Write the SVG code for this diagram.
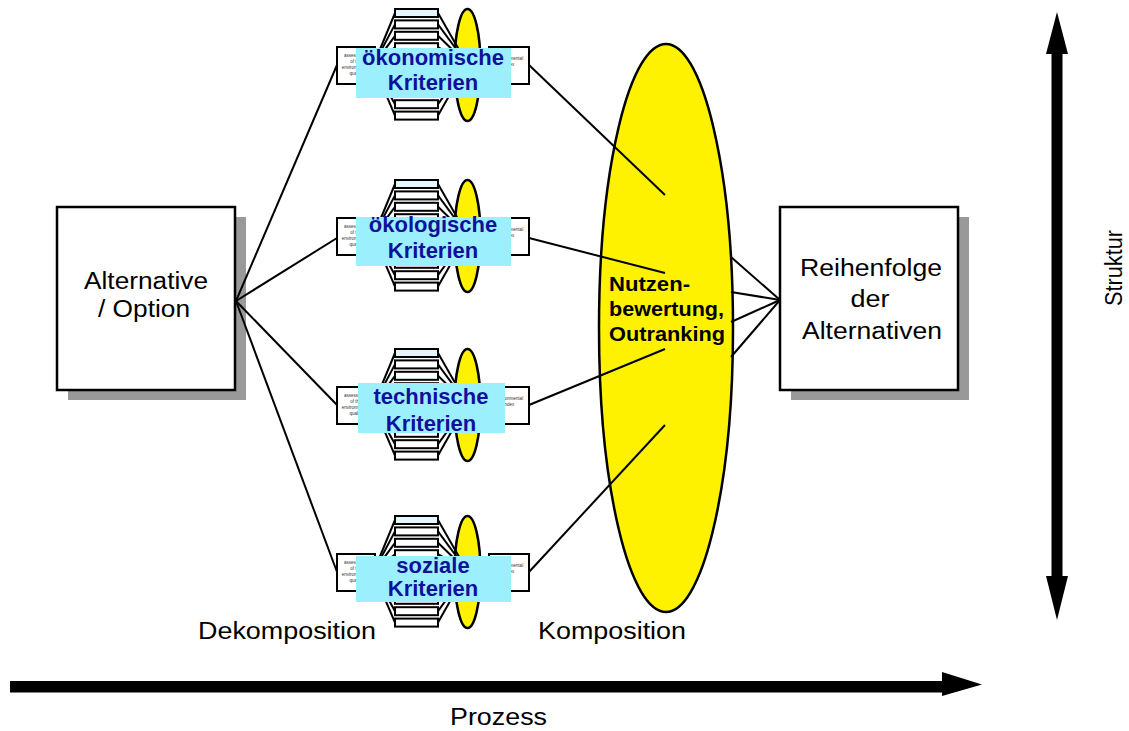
<svg xmlns="http://www.w3.org/2000/svg" xmlns:xlink="http://www.w3.org/1999/xlink" width="1129" height="731" viewBox="0 0 1129 731">
  <style>
    .box { fill: #ffffff; stroke: #000000; stroke-width: 2.5; }
    .shadow { fill: #999999; }
    .ln { stroke: #000000; stroke-width: 2; fill: none; }
    .sbox { fill: #ffffff; stroke: #000000; stroke-width: 2; }
    .row { fill: #ffffff; stroke: #000000; stroke-width: 2; }
    .row0 { fill: #e4f5fc; stroke: #000000; stroke-width: 2; }
    .yel { fill: #fff200; stroke: #000000; stroke-width: 2.5; }
    .tiny { font-family: "Liberation Sans", Arial, sans-serif; font-size: 4.5px; fill: #333333; text-anchor: middle; }
    .label { fill: #9cf0fe; }
    .lbl { font-family: "Liberation Sans", Arial, sans-serif; font-size: 22px; font-weight: bold; fill: #10109a; text-anchor: middle; }
    .big { font-family: "Liberation Sans", Arial, sans-serif; font-size: 23px; fill: #000000; text-anchor: middle; }
    .plain { font-family: "Liberation Sans", Arial, sans-serif; font-size: 23px; fill: #000000; }
    .bold { font-family: "Liberation Sans", Arial, sans-serif; font-size: 21px; font-weight: bold; fill: #000000; }
  </style>
  <defs>
    <!-- criterion cluster artwork, drawn around a local centre line y = 0 -->
    <g id="cluster">
      <!-- left input box -->
      <rect class="sbox" x="337" y="-18" width="38" height="37"/>
      <text class="tiny" x="356" y="-8">assessment</text>
      <text class="tiny" x="356" y="-2">of the</text>
      <text class="tiny" x="356" y="4">environmental</text>
      <text class="tiny" x="356" y="10">quality</text>
      <!-- fan into the indicator stack -->
      <g class="ln">
        <line x1="376" y1="-6" x2="395" y2="-52"/>
        <line x1="376" y1="-4.7" x2="395" y2="-40.6"/>
        <line x1="376" y1="-3.3" x2="395" y2="-29.2"/>
        <line x1="376" y1="-2" x2="395" y2="-17.8"/>
        <line x1="376" y1="-0.7" x2="395" y2="-6.4"/>
        <line x1="376" y1="0.7" x2="395" y2="5"/>
        <line x1="376" y1="2" x2="395" y2="16.4"/>
        <line x1="376" y1="3.3" x2="395" y2="27.8"/>
        <line x1="376" y1="4.7" x2="395" y2="39.2"/>
        <line x1="376" y1="6" x2="395" y2="50.6"/>
      </g>
      <!-- indicator stack -->
      <rect class="row0" x="395" y="-56" width="43" height="8"/>
      <rect class="row" x="395" y="-44.6" width="43" height="8"/>
      <rect class="row" x="395" y="-33.2" width="43" height="8"/>
      <rect class="row" x="395" y="-21.8" width="43" height="8"/>
      <rect class="row" x="395" y="-10.4" width="43" height="8"/>
      <rect class="row" x="395" y="1" width="43" height="8"/>
      <rect class="row" x="395" y="12.4" width="43" height="8"/>
      <rect class="row" x="395" y="23.8" width="43" height="8"/>
      <rect class="row" x="395" y="35.2" width="43" height="8"/>
      <rect class="row" x="395" y="46.6" width="43" height="8"/>
      <!-- aggregation ellipse -->
      <ellipse class="yel" cx="467.5" cy="0" rx="13" ry="56"/>
      <g class="ln">
        <line x1="438" y1="-52" x2="462" y2="-10"/>
        <line x1="438" y1="-40.6" x2="462" y2="-8"/>
        <line x1="438" y1="-29.2" x2="462" y2="-6"/>
        <line x1="438" y1="-17.8" x2="462" y2="-4"/>
        <line x1="438" y1="-6.4" x2="462" y2="-2"/>
        <line x1="438" y1="5" x2="462" y2="0"/>
        <line x1="438" y1="16.4" x2="462" y2="2"/>
        <line x1="438" y1="27.8" x2="462" y2="4"/>
        <line x1="438" y1="39.2" x2="462" y2="6"/>
        <line x1="438" y1="50.6" x2="462" y2="8"/>
        <line x1="474" y1="-4" x2="489" y2="0"/>
        <line x1="474" y1="4" x2="489" y2="0"/>
      </g>
      <!-- right output box -->
      <rect class="sbox" x="489" y="-18" width="40" height="37"/>
      <text class="tiny" x="509" y="-5">environmental</text>
      <text class="tiny" x="509" y="1">index</text>
    </g>
  </defs>

  <rect width="1129" height="731" fill="#ffffff"/>

  <!-- start node -->
  <g id="alternative">
    <rect class="shadow" x="68" y="217" width="178" height="183"/>
    <rect class="box" x="57" y="207" width="178" height="183"/>
    <text class="big" x="146" y="289" textLength="124" lengthAdjust="spacingAndGlyphs">Alternative</text>
    <text class="big" x="144" y="317" textLength="92" lengthAdjust="spacingAndGlyphs">/ Option</text>
  </g>

  <!-- criteria clusters -->
  <g id="crit-oekonomisch">
    <use xlink:href="#cluster" transform="translate(0,65)"/>
    <rect class="label" x="356" y="48" width="155" height="50"/>
    <text class="lbl" x="433" y="65">ökonomische</text>
    <text class="lbl" x="433" y="90">Kriterien</text>
  </g>
  <g id="crit-oekologisch">
    <use xlink:href="#cluster" transform="translate(0,236)"/>
    <rect class="label" x="356" y="217" width="155" height="49"/>
    <text class="lbl" x="433" y="232">ökologische</text>
    <text class="lbl" x="433" y="258">Kriterien</text>
  </g>
  <g id="crit-technisch">
    <use xlink:href="#cluster" transform="translate(0,405)"/>
    <rect class="label" x="358" y="383" width="147" height="50"/>
    <text class="lbl" x="431" y="404">technische</text>
    <text class="lbl" x="431" y="431">Kriterien</text>
  </g>
  <g id="crit-sozial">
    <use xlink:href="#cluster" transform="translate(0,572)"/>
    <rect class="label" x="356" y="556" width="155" height="46"/>
    <text class="lbl" x="433" y="573">soziale</text>
    <text class="lbl" x="433" y="596">Kriterien</text>
  </g>

  <!-- aggregation node -->
  <g id="bewertung">
    <ellipse class="yel" cx="666" cy="328" rx="67" ry="284" stroke-width="3"/>
    <text class="bold" x="609" y="291" textLength="81" lengthAdjust="spacingAndGlyphs">Nutzen-</text>
    <text class="bold" x="609" y="316" textLength="115" lengthAdjust="spacingAndGlyphs">bewertung,</text>
    <text class="bold" x="609" y="341" textLength="116" lengthAdjust="spacingAndGlyphs">Outranking</text>
  </g>

  <!-- result node -->
  <g id="reihenfolge">
    <rect class="shadow" x="791" y="217" width="178" height="183"/>
    <rect class="box" x="780" y="207" width="178" height="183"/>
    <text class="big" x="871" y="276" textLength="142" lengthAdjust="spacingAndGlyphs">Reihenfolge</text>
    <text class="big" x="870" y="307" textLength="39" lengthAdjust="spacingAndGlyphs">der</text>
    <text class="big" x="872" y="339" textLength="140" lengthAdjust="spacingAndGlyphs">Alternativen</text>
  </g>

  <!-- connectors -->
  <g id="connectors" class="ln">
    <line x1="236" y1="301" x2="337" y2="65"/>
    <line x1="236" y1="301" x2="337" y2="238"/>
    <line x1="236" y1="301" x2="337" y2="405"/>
    <line x1="236" y1="301" x2="337" y2="572"/>
    <line x1="529" y1="65" x2="665" y2="195"/>
    <line x1="529" y1="238" x2="665" y2="273"/>
    <line x1="529" y1="405" x2="665" y2="349"/>
    <line x1="529" y1="572" x2="665" y2="425"/>
    <line x1="731" y1="257" x2="780" y2="300"/>
    <line x1="731" y1="292" x2="780" y2="300"/>
    <line x1="731" y1="322" x2="780" y2="300"/>
    <line x1="731" y1="357" x2="780" y2="300"/>
  </g>

  <!-- phase labels -->
  <g id="phases">
    <text class="plain" x="198" y="639" textLength="178" lengthAdjust="spacingAndGlyphs">Dekomposition</text>
    <text class="plain" x="538" y="639" textLength="148" lengthAdjust="spacingAndGlyphs">Komposition</text>
  </g>

  <!-- process axis -->
  <g id="prozess">
    <rect x="10" y="681" width="933" height="11.5" fill="#000000"/>
    <polygon points="942,672 982,684.5 942,696" fill="#000000"/>
    <text class="plain" x="450" y="725" textLength="97" lengthAdjust="spacingAndGlyphs">Prozess</text>
  </g>

  <!-- structure axis -->
  <g id="struktur">
    <rect x="1051.5" y="53" width="11" height="524" fill="#000000"/>
    <polygon points="1057,12 1068,54 1046,54" fill="#000000"/>
    <polygon points="1046,576 1068,576 1057,620" fill="#000000"/>
    <text class="plain" x="0" y="0" font-size="18" text-anchor="middle" textLength="76" lengthAdjust="spacingAndGlyphs" transform="translate(1122,268) rotate(-90)">Struktur</text>
  </g>
</svg>
